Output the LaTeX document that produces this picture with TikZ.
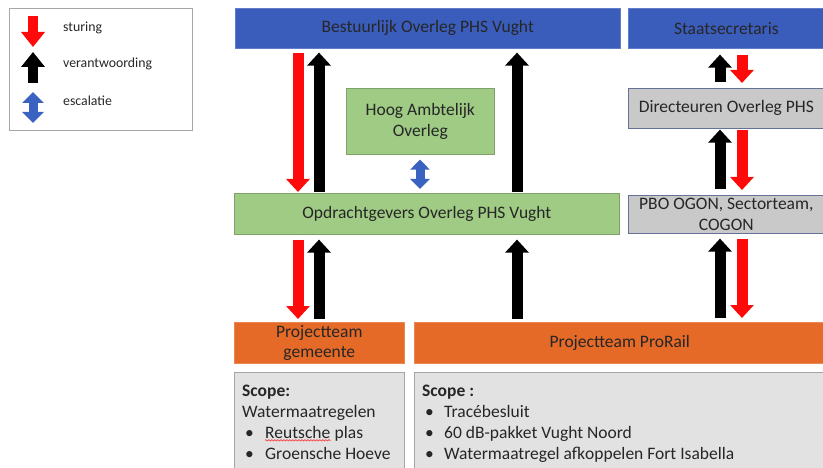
\documentclass[tikz,border=0pt]{standalone}
\usepackage{fontspec}
\setmainfont{Carlito}
\usetikzlibrary{arrows.meta,decorations.pathmorphing}
\definecolor{cblue}{HTML}{3A5DBB}
\definecolor{cgreen}{HTML}{9FCB84}
\definecolor{corange}{HTML}{E56A28}
\definecolor{cgray}{HTML}{C9C9C9}
\definecolor{cscope}{HTML}{E2E2E2}
\definecolor{cred}{HTML}{FF0A0A}
\definecolor{carrblue}{HTML}{3A62C0}
\tikzset{
  box/.style={anchor=north west, inner sep=0pt, align=center, font=\fontsize{17.5}{20.5}\selectfont, text=black!85},
  bluebox/.style={box, fill=cblue, draw=cblue!80!white, line width=0.6pt},
  greenbox/.style={box, fill=cgreen, draw=cgreen!80!black, line width=0.6pt},
  graybox/.style={box, fill=cgray, draw=cblue!40!gray, line width=0.6pt},
  orangebox/.style={box, fill=corange, draw=corange!80!white, line width=0.6pt},
  scopebox/.style={anchor=north west, inner sep=0pt, fill=cscope, draw=gray!70, line width=0.8pt},
  sline/.style={anchor=base west, inner sep=0pt, font=\fontsize{17.5}{21}\selectfont, text=black!85},
  bul/.style={sline, font=\fontsize{17.5}{21}\selectfont},
  blkarr/.style={line width=11pt, -{Triangle[length=13pt,width=23pt]}},
  redarr/.style={blkarr, draw=cred},
  blackarr/.style={blkarr, draw=black},
  bluearr/.style={line width=9pt, draw=carrblue, {Triangle[length=10pt,width=19pt]}-{Triangle[length=10pt,width=19pt]}},
  legtext/.style={anchor=west, inner sep=0pt, font=\fontsize{13.8}{16}\selectfont, text=black!85},
}
\begin{document}
\begin{tikzpicture}[x=1pt,y=-1pt]
\useasboundingbox (0,0) rectangle (823,468);
\clip (0,0) rectangle (823,468);
% legend
\node[anchor=north west, minimum width=183pt, minimum height=122pt, draw=gray!70, line width=0.8pt, inner sep=0pt] (leg) at (9,8) {};
\coordinate (l1a) at (33,16); \coordinate (l1b) at (33,47);
\coordinate (l2a) at (33,83); \coordinate (l2b) at (33,52);
\coordinate (l3a) at (33,92); \coordinate (l3b) at (33,123);
\draw[redarr, line width=10pt, -{Triangle[length=15pt,width=23pt]}] (l1a) -- (l1b);
\draw[blackarr, line width=10pt, -{Triangle[length=15pt,width=23pt]}] (l2a) -- (l2b);
\draw[bluearr, line width=9pt, {Triangle[length=11pt,width=21pt]}-{Triangle[length=11pt,width=21pt]}] (l3a) -- (l3b);
\node[legtext] (t1) at (63,28) {sturing};
\node[legtext] (t2) at (63,64) {verantwoording};
\node[legtext] (t3) at (63,101) {escalatie};
% boxes
\node[bluebox, minimum width=385pt, minimum height=40pt] (bo) at (235,8) {Bestuurlijk Overleg PHS Vught};
\node[bluebox, minimum width=196pt, minimum height=40pt] (ss) at (628,8) {Staatsecretaris};
\node[greenbox, minimum width=148pt, minimum height=66pt] (hao) at (346,88) {Hoog Ambtelijk\\Overleg};
\node[graybox, minimum width=196pt, minimum height=40pt] (dop) at (628,88) {Directeuren Overleg PHS};
\node[greenbox, minimum width=385pt, minimum height=41pt] (og) at (234,193) {Opdrachtgevers Overleg PHS Vught};
\node[graybox, minimum width=196pt, minimum height=38pt] (pbo) at (628,195) {PBO OGON, Sectorteam,\\COGON};
\node[orangebox, minimum width=170pt, minimum height=41pt] (ptg) at (234,322) {Projectteam\\gemeente};
\node[orangebox, minimum width=411pt, minimum height=41pt] (ptp) at (414,322) {Projectteam ProRail};
\node[scopebox, minimum width=170pt, minimum height=110pt] (scl) at (234,372) {};
\node[scopebox, minimum width=411pt, minimum height=110pt] (scr) at (414,372) {};
% left scope text
\node[sline] (l0) at (242,396) {\textbf{Scope:}};
\node[sline] (l1) at (242,417) {Watermaatregelen};
\node[bul] (b2) at (245,438) {\textbullet};
\node[sline] (rw) at (265,438) {Reutsche};
\node[sline] (rp) at ([xshift=4pt]rw.base east) {plas};
\node[bul] (b3) at (245,459) {\textbullet};
\node[sline] (l3) at (265,459) {Groensche Hoeve};
\draw[cred, line width=0.5pt, decorate, decoration={snake, amplitude=0.7pt, segment length=3pt}] ([yshift=-2pt]rw.south west) -- ([yshift=-2pt]rw.south east);
% right scope text
\node[sline] (r0) at (422,396) {\textbf{Scope :}};
\node[bul] (rb1) at (425,417) {\textbullet};
\node[sline] (r1) at (444,417) {Tracébesluit};
\node[bul] (rb2) at (425,438) {\textbullet};
\node[sline] (r2) at (444,438) {60 dB-pakket Vught Noord};
\node[bul] (rb3) at (425,459) {\textbullet};
\node[sline] (r3) at (444,459) {Watermaatregel afkoppelen Fort Isabella};
% arrow columns
\coordinate (c1) at (298,0);
\coordinate (c2) at (319,0);
\coordinate (c3) at (517,0);
\coordinate (hx) at (420,0);
\coordinate (c4) at (720,0);
\coordinate (c5) at (742,0);
% connectors
\draw[redarr, shorten <=4pt, shorten >=1pt] (bo.south -| c1) -- (og.north -| c1);
\draw[blackarr, shorten <=1pt, shorten >=4pt] (og.north -| c2) -- (bo.south -| c2);
\draw[blackarr, shorten <=1pt, shorten >=4pt] (og.north -| c3) -- (bo.south -| c3);
\draw[bluearr, shorten <=5pt, shorten >=4pt] (hao.south -| hx) -- (og.north -| hx);
\draw[blackarr, shorten <=6pt, shorten >=6pt] (dop.north -| c4) -- (ss.south -| c4);
\draw[redarr, shorten <=6pt, shorten >=5pt] (ss.south -| c5) -- (dop.north -| c5);
\draw[blackarr, shorten <=6pt, shorten >=1pt] (pbo.north -| c4) -- (dop.south -| c4);
\draw[redarr, shorten <=1pt, shorten >=5pt] (dop.south -| c5) -- (pbo.north -| c5);
\draw[blackarr, shorten <=4pt, shorten >=5pt] (ptp.north -| c4) -- (pbo.south -| c4);
\draw[redarr, shorten <=5pt, shorten >=4pt] (pbo.south -| c5) -- (ptp.north -| c5);
\draw[redarr, shorten <=5pt, shorten >=3pt] (og.south -| c1) -- (ptg.north -| c1);
\draw[blackarr, shorten <=3pt, shorten >=5pt] (ptg.north -| c2) -- (og.south -| c2);
\draw[blackarr, shorten <=3pt, shorten >=5pt] (ptp.north -| c3) -- (og.south -| c3);
\end{tikzpicture}
\end{document}
